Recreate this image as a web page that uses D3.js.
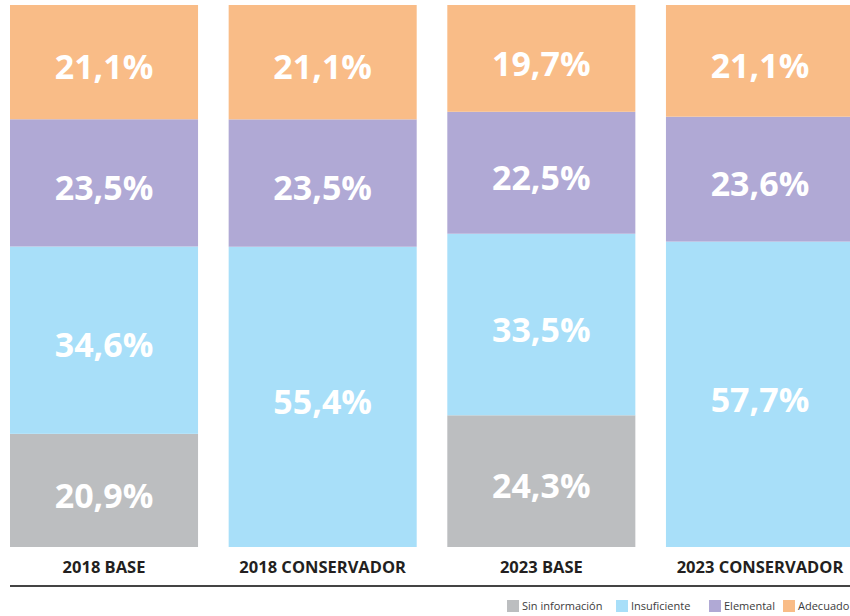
<!DOCTYPE html>
<html>
<head>
<meta charset="utf-8">
<script src="https://cdn.jsdelivr.net/npm/d3@7"></script>
<style>
  body { margin: 0; background: #fff; }
  svg { display: block; font-family: "Open Sans", sans-serif; }
</style>
</head>
<body>
<div id="chart"></div>
<script>
// Datos del gráfico
const escenarios = ["2018 BASE", "2018 CONSERVADOR", "2023 BASE", "2023 CONSERVADOR"];
const niveles = ["Sin información", "Insuficiente", "Elemental", "Adecuado"];
const sinInformacion = [20.9, 0, 24.3, 0];
const insuficiente = [34.6, 55.4, 33.5, 57.7];
const elemental = [23.5, 23.5, 22.5, 23.6];
const adecuado = [21.1, 21.1, 19.7, 21.1];
const colores = ["#bcbec0", "#a8dff9", "#b0a9d5", "#f9bc87"];

const width = 850;
const height = 616;

const svg = d3.select("#chart")
    .append("svg")
    .attr("width", width)
    .attr("height", height);

// tabla para el stack
const tabla = escenarios.map((e, i) => ({
    escenario: e,
    "Sin información": sinInformacion[i],
    "Insuficiente": insuficiente[i],
    "Elemental": elemental[i],
    "Adecuado": adecuado[i]
}));

const series = d3.stack()
    .keys(niveles)
    .offset(d3.stackOffsetExpand)(tabla);

const x = d3.scaleBand()
    .domain(escenarios)
    .range([10, 854])
    .paddingInner(0.14)
    .paddingOuter(0);

const y = d3.scaleLinear()
    .domain([0, 1])
    .range([547, 5]);

const color = d3.scaleOrdinal().domain(niveles).range(colores);

// barras apiladas
const grupos = svg.selectAll(".serie")
    .data(series)
    .enter()
    .append("g")
    .attr("fill", d => color(d.key));

grupos.selectAll("rect")
    .data(d => d)
    .enter()
    .append("rect")
    .attr("x", d => x(d.data.escenario))
    .attr("y", d => y(d[1]))
    .attr("width", x.bandwidth())
    .attr("height", d => y(d[0]) - y(d[1]));

// etiquetas de porcentaje
series.forEach(s => {
    s.forEach(d => {
        const valor = d.data[s.key];
        if (!valor) return;
        svg.append("text")
            .attr("x", x(d.data.escenario) + x.bandwidth() / 2)
            .attr("y", (y(d[0]) + y(d[1])) / 2 + 5)
            .attr("dy", "0.36em")
            .attr("text-anchor", "middle")
            .attr("fill", "#fff")
            .style("font-size", "34px")
            .style("font-weight", "bold")
            .text(d3.format(".1f")(valor).replace(".", ",") + "%");
    });
});

// eje inferior
svg.append("line")
    .attr("x1", 10).attr("x2", 850)
    .attr("y1", 586).attr("y2", 586)
    .attr("stroke", "#444")
    .attr("stroke-width", 2);

svg.selectAll(".etiqueta")
    .data(escenarios)
    .enter()
    .append("text")
    .attr("x", d => Math.min(x(d) + x.bandwidth() / 2, 762))
    .attr("y", 573)
    .attr("text-anchor", "middle")
    .attr("fill", "#231f20")
    .style("font-size", "16.5px")
    .style("font-weight", "bold")
    .text(d => d);

// leyenda
const leyendaX = [507, 616, 709, 783];
const leyenda = svg.selectAll(".leyenda")
    .data(niveles)
    .enter()
    .append("g")
    .attr("transform", (d, i) => `translate(${leyendaX[i]},600)`);

leyenda.append("rect")
    .attr("width", 12)
    .attr("height", 12)
    .attr("fill", d => color(d));

leyenda.append("text")
    .attr("x", 15)
    .attr("y", 10)
    .attr("fill", "#3c3c3c")
    .style("font-size", "11px")
    .text(d => d);
</script>
</body>
</html>
